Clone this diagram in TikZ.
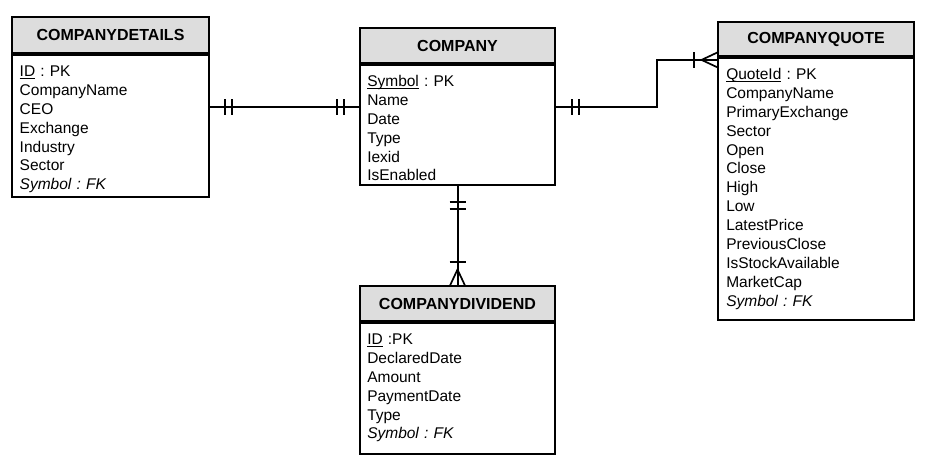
\documentclass[tikz,border=0pt]{standalone}
\usepackage{fontspec}
\setmainfont{Liberation Sans}
\usetikzlibrary{positioning,decorations.markings}
\definecolor{headgray}{RGB}{221,221,221}
\frenchspacing
\newcommand{\keyattr}[1]{\setbox0\hbox{#1}\rlap{\rule[-2.4pt]{\wd0}{0.8pt}}\box0\relax}
\tikzstyle{entityhead}=[draw=black,line width=1.9pt,fill=headgray,inner sep=0pt,font=\fontsize{16}{19}\selectfont\bfseries]
\tikzstyle{entitybody}=[draw=black,line width=1.9pt,fill=white,inner sep=0pt]
\tikzstyle{fields}=[anchor=base west,inner sep=0pt,text width=175pt,align=left,font=\fontsize{15.5}{18.9}\selectfont]
\tikzstyle{relation}=[line width=2pt,postaction={decorate}]
\tikzstyle{oneone}=[relation,decoration={markings,
  mark=at position 15pt with {\draw[line width=1.8pt] (0pt,-8pt) -- (0pt,8pt);},
  mark=at position 22pt with {\draw[line width=1.8pt] (0pt,-8pt) -- (0pt,8pt);},
  mark=at position -15pt with {\draw[line width=1.8pt] (0pt,-8pt) -- (0pt,8pt);},
  mark=at position -22pt with {\draw[line width=1.8pt] (0pt,-8pt) -- (0pt,8pt);}}]
\tikzstyle{onemany}=[relation,decoration={markings,
  mark=at position 16pt with {\draw[line width=1.8pt] (0pt,-8pt) -- (0pt,8pt);},
  mark=at position 23pt with {\draw[line width=1.8pt] (0pt,-8pt) -- (0pt,8pt);},
  mark=at position -23pt with {\draw[line width=1.8pt] (0pt,-8pt) -- (0pt,8pt);},
  mark=at position -15.5pt with {\draw[line width=1.7pt] (16pt,-7.5pt) -- (0pt,0pt) -- (16pt,7.5pt);}}]

\begin{document}
\begin{tikzpicture}[x=1pt,y=-1pt]
  \useasboundingbox (0,0) rectangle (934,469);

  \node[entityhead,minimum width=197pt,minimum height=36pt] (detailshead) at (110.5,35) {COMPANYDETAILS};
  \node[entitybody,minimum width=197pt,minimum height=142pt,below=0pt of detailshead] (detailsbody) {};
  \node[fields] (detailsfields) at ([shift={(8.5,22.5)}]detailsbody.north west)
    {\keyattr{ID} : PK\\ CompanyName\\ CEO\\ Exchange\\ Industry\\ Sector\\ \textit{Symbol : FK}};

  \node[entityhead,minimum width=195pt,minimum height=35pt] (companyhead) at (457.5,45.5) {COMPANY};
  \node[entitybody,minimum width=195pt,minimum height=120pt,below=0pt of companyhead] (companybody) {};
  \node[fields] (companyfields) at ([shift={(8,22.5)}]companybody.north west)
    {\keyattr{Symbol} : PK\\ Name\\ Date\\ Type\\ Iexid\\ IsEnabled};

  \node[entityhead,minimum width=196pt,minimum height=34pt] (quotehead) at (816,39) {COMPANYQUOTE};
  \node[entitybody,minimum width=196pt,minimum height=262pt,below=0pt of quotehead] (quotebody) {};
  \node[fields] (quotefields) at ([shift={(9,22.5)}]quotebody.north west)
    {\keyattr{QuoteId} : PK\\ CompanyName\\ PrimaryExchange\\ Sector\\ Open\\ Close\\ High\\ Low\\
     LatestPrice\\ PreviousClose\\ IsStockAvailable\\ MarketCap\\ \textit{Symbol : FK}};

  \node[entityhead,minimum width=195pt,minimum height=35pt] (dividendhead) at (457.5,303.5) {COMPANYDIVIDEND};
  \node[entitybody,minimum width=195pt,minimum height=131pt,below=0pt of dividendhead] (dividendbody) {};
  \node[fields] (dividendfields) at ([shift={(8,22.5)}]dividendbody.north west)
    {\keyattr{ID} :PK\\ DeclaredDate\\ Amount\\ PaymentDate\\ Type\\ \textit{Symbol : FK}};

  \draw[oneone] ([yshift=19pt]detailsbody.east) -- ([yshift=18pt]companybody.west);
  \draw[onemany] ([yshift=18pt]companybody.east) -- ++(101,0) |- ([yshift=129pt]quotebody.west);
  \draw[onemany] (companybody.south) -- (dividendhead.north);
\end{tikzpicture}
\end{document}
